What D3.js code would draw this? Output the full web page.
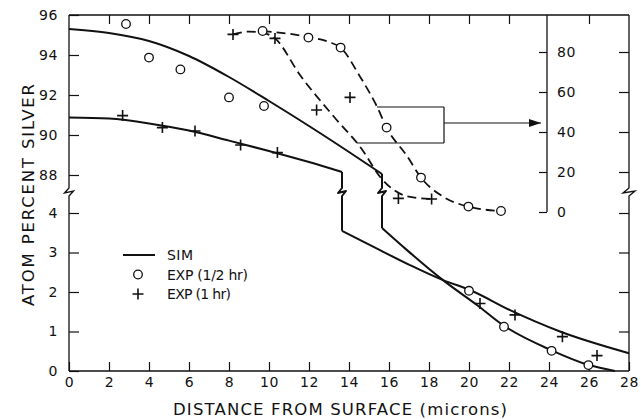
<!DOCTYPE html>
<html>
<head>
<meta charset="utf-8">
<script src="https://cdn.jsdelivr.net/npm/d3@7/dist/d3.min.js"></script>
<style>
  html, body { margin: 0; padding: 0; background: #fff; }
  svg { display: block; }
  text { font-family: "DejaVu Sans", "Liberation Sans", sans-serif; fill: #111; }
</style>
</head>
<body>
<script>
// ---- data -------------------------------------------------------------
const xTicks = [0, 2, 4, 6, 8, 10, 12, 14, 16, 18, 20, 22, 24, 26, 28];
const upperTicks = [88, 90, 92, 94, 96];       // atom % silver, upper (broken) band
const lowerTicks = [0, 1, 2, 3, 4];            // atom % silver, lower band
const insetTicks = [0, 20, 40, 60, 80];        // inset scale for the dashed profiles

// simulated profiles: upper band segment, then lower band segment
const simHalfUpper = [[0, 95.3], [2, 95.1], [4, 94.7], [6, 93.95], [8, 92.9], [10, 91.7], [12, 90.45], [14, 89.15], [15.65, 88.05]];
const simHalfLower = [[15.65, 3.62], [16.9, 3.06], [18.7, 2.3], [20.4, 1.67], [21.7, 1.16], [24.1, 0.53], [26, 0.15], [27.3, 0]];
const simHourUpper = [[0, 90.88], [2, 90.82], [4, 90.58], [6, 90.22], [8, 89.72], [10, 89.2], [12, 88.65], [13.65, 88.15]];
const simHourLower = [[13.65, 3.55], [15.55, 3.06], [17.05, 2.68], [18.7, 2.3], [20.05, 2.05], [22.05, 1.54], [24.55, 1.0], [28, 0.45]];

// measurements
const expHalfUpper = [[2.85, 95.55], [4.0, 93.87], [5.57, 93.28], [8.0, 91.88], [9.75, 91.45]];
const expHalfLower = [[20.0, 2.03], [21.75, 1.12], [24.13, 0.51], [25.97, 0.15]];
const expHourUpper = [[2.68, 90.97], [4.67, 90.37], [6.3, 90.2], [8.58, 89.5], [10.42, 89.12]];
const expHourLower = [[20.55, 1.71], [22.3, 1.42], [24.67, 0.87], [26.4, 0.39]];

// dashed profiles read on the inset scale
const insetHalfCurve = [[9.68, 90.5], [11.97, 87.5], [13.0, 85], [13.58, 82.2], [14.55, 67.7], [15.4, 52.7], [15.88, 42.2], [16.9, 28], [17.6, 17.2], [18.7, 7.7], [19.97, 2.7], [21.6, 0.5]];
const insetHalfMarks = [[9.68, 90.5], [11.97, 87.2], [13.58, 82.2], [15.88, 42.2], [17.6, 17.2], [19.97, 2.7], [21.6, 0.5]];
const insetHourCurve = [[8.2, 88.8], [9.0, 90.2], [9.7, 89.6], [10.3, 86.8], [11.55, 68.5], [13.3, 47], [14.6, 32], [15.6, 17], [16.9, 7.9], [18.13, 6.5]];
const insetHourMarks = [[8.2, 88.8], [10.3, 86.8], [12.38, 51], [14.05, 57.3], [16.47, 6.8], [18.13, 6.5]];

// bracket tying the dashed profiles to the inset scale (x in microns, y on inset scale)
const bracketTop = [[15.4, 52.5], [18.75, 52.5]];
const bracketBottom = [[14.4, 34.5], [18.75, 34.5]];
const arrowLine = [[18.75, 44.5], [23.6, 44.5]];
const insetAxisAt = 23.9;

const legendItems = [
  { label: "SIM", kind: "line" },
  { label: "EXP (1/2 hr)", kind: "circle" },
  { label: "EXP (1 hr)", kind: "plus" }
];

// ---- layout -----------------------------------------------------------
const W = 641, H = 419;
const padL = 69, padR = 629, padT = 15, padB = 371, breakY = 192;

const x = d3.scaleLinear([0, 28], [padL, padR]);
const yU = d3.scaleLinear([88, 96], [175, padT]);
const yL = d3.scaleLinear([0, 4], [padB, 213]);
const yR = d3.scaleLinear([0, 80], [212, 52]);

const svg = d3.select("body").append("svg").attr("width", W).attr("height", H);
const ink = "#111";

// zigzag break glyph on a vertical line
function zig(px, y0, y1, w) {
  return `M${px},${y0}L${px},${breakY - 4}L${px - w},${breakY + 1}L${px + w},${breakY - 1}L${px},${breakY + 4}L${px},${y1}`;
}

// frame
const frame = svg.append("g").attr("fill", "none").attr("stroke", ink).attr("stroke-width", 1.3);
frame.append("path").attr("d", `M${padL},${padT}H${padR}`);
frame.append("path").attr("d", `M${padL},${padB}H${padR}`);
frame.append("path").attr("d", zig(padL, padT, padB, 4.5));
frame.append("path").attr("d", zig(padR, padT, padB, 6));

function styleAxis(g) {
  g.select(".domain").remove();
  g.selectAll(".tick line").attr("stroke", ink).attr("stroke-width", 1.2);
  g.selectAll(".tick text").attr("fill", ink).attr("font-size", 14).attr("letter-spacing", 0.6)
    .attr("font-family", "'DejaVu Sans', sans-serif");
}
const fmt = d3.format("d");

// bottom axis with labels
svg.append("g").attr("transform", `translate(0,${padB})`)
  .call(d3.axisBottom(x).tickValues(xTicks).tickSize(-9).tickPadding(6).tickFormat(fmt))
  .call(styleAxis);
// top ticks only
svg.append("g").attr("transform", `translate(0,${padT})`)
  .call(d3.axisTop(x).tickValues(xTicks.filter(d => d > 0 && d < 28 && d !== 24)).tickSize(-9).tickFormat(""))
  .call(styleAxis);
// left axes
svg.append("g").attr("transform", `translate(${padL},0)`)
  .call(d3.axisLeft(yU).tickValues(upperTicks).tickSize(-10).tickPadding(11).tickFormat(fmt))
  .call(styleAxis);
svg.append("g").attr("transform", `translate(${padL},0)`)
  .call(d3.axisLeft(yL).tickValues(lowerTicks).tickSize(-10).tickPadding(11).tickFormat(fmt))
  .call(styleAxis);
// right frame ticks
svg.append("g").attr("transform", `translate(${padR},0)`)
  .call(d3.axisRight(yR).tickValues(insetTicks.filter(d => d > 0)).tickSize(-10).tickFormat(""))
  .call(styleAxis);
svg.append("g").attr("transform", `translate(${padR},0)`)
  .call(d3.axisRight(yL).tickValues(lowerTicks.filter(d => d > 0)).tickSize(-10).tickFormat(""))
  .call(styleAxis);
// inset axis for the dashed profiles
const ix = x(insetAxisAt);
svg.append("path").attr("d", `M${ix},${padT}V${yR(0)}`).attr("stroke", ink).attr("stroke-width", 1.3);
svg.append("g").attr("transform", `translate(${ix},0)`)
  .call(d3.axisRight(yR).tickValues(insetTicks).tickSize(-8).tickPadding(10).tickFormat(fmt))
  .call(styleAxis);

// axis titles
svg.append("text")
  .attr("transform", `translate(33.5,195) rotate(-90)`)
  .attr("text-anchor", "middle").attr("font-size", 16.5)
  .attr("textLength", 222).attr("lengthAdjust", "spacing")
  .text("ATOM PERCENT SILVER");
svg.append("text")
  .attr("x", 340).attr("y", 415)
  .attr("text-anchor", "middle").attr("font-size", 16.5)
  .attr("textLength", 334).attr("lengthAdjust", "spacing")
  .text("DISTANCE FROM SURFACE (microns)");

// curves
const lineU = d3.line().x(d => x(d[0])).y(d => yU(d[1])).curve(d3.curveMonotoneX);
const lineL = d3.line().x(d => x(d[0])).y(d => yL(d[1])).curve(d3.curveMonotoneX);
const lineR = d3.line().x(d => x(d[0])).y(d => yR(d[1])).curve(d3.curveMonotoneX);

const curves = svg.append("g").attr("fill", "none").attr("stroke", ink)
  .attr("stroke-width", 2).attr("stroke-linejoin", "round");
[[simHalfUpper, simHalfLower], [simHourUpper, simHourLower]].forEach(([u, l]) => {
  curves.append("path").attr("d", lineU(u));
  const a = u[u.length - 1], b = l[0];
  curves.append("path").attr("d", zig(x(a[0]), yU(a[1]), yL(b[1]), 4));
  curves.append("path").attr("d", lineL(l));
});

const dashed = svg.append("g").attr("fill", "none").attr("stroke", ink)
  .attr("stroke-width", 1.8).attr("stroke-dasharray", "9,5");
dashed.append("path").attr("d", lineR(insetHalfCurve));
dashed.append("path").attr("d", lineR(insetHourCurve));

// bracket and arrow
const straightR = d3.line().x(d => x(d[0])).y(d => yR(d[1]));
const br = svg.append("g").attr("fill", "none").attr("stroke", ink).attr("stroke-width", 1.2);
br.append("path").attr("d", straightR(bracketTop));
br.append("path").attr("d", straightR(bracketBottom));
br.append("path").attr("d", straightR([bracketTop[1], bracketBottom[1]]));
br.append("path").attr("d", straightR(arrowLine));
const tip = [x(arrowLine[1][0]), yR(arrowLine[1][1])];
svg.append("path")
  .attr("d", `M${tip[0]},${tip[1]}L${tip[0] - 12},${tip[1] - 4}L${tip[0] - 12},${tip[1] + 4}Z`)
  .attr("fill", ink);

// markers
function circles(data, ys) {
  svg.append("g").selectAll("circle").data(data).join("circle")
    .attr("cx", d => x(d[0])).attr("cy", d => ys(d[1])).attr("r", 4.3)
    .attr("fill", "#fff").attr("stroke", ink).attr("stroke-width", 1.3);
}
function pluses(data, ys) {
  svg.append("g").selectAll("path").data(data).join("path")
    .attr("d", d => { const px = x(d[0]), py = ys(d[1]); return `M${px - 5.5},${py}H${px + 5.5}M${px},${py - 5.5}V${py + 5.5}`; })
    .attr("stroke", ink).attr("stroke-width", 1.6).attr("fill", "none");
}
circles(expHalfUpper, yU);
circles(expHalfLower, yL);
circles(insetHalfMarks, yR);
pluses(expHourUpper, yU);
pluses(expHourLower, yL);
pluses(insetHourMarks, yR);

// legend
const lg = svg.append("g").attr("transform", "translate(138,255)");
const lengths = [26, 81, 64];
legendItems.forEach((it, i) => {
  const g = lg.append("g").attr("transform", `translate(0,${i * 19.5})`);
  if (it.kind === "line") g.append("path").attr("d", "M-15,0H17").attr("stroke", ink).attr("stroke-width", 2);
  if (it.kind === "circle") g.append("circle").attr("r", 4.3).attr("fill", "#fff").attr("stroke", ink).attr("stroke-width", 1.3);
  if (it.kind === "plus") g.append("path").attr("d", "M-5.5,0H5.5M0,-5.5V5.5").attr("stroke", ink).attr("stroke-width", 1.6);
  g.append("text").attr("x", 29).attr("y", 5).attr("font-size", 14)
    .attr("textLength", lengths[i]).attr("lengthAdjust", "spacing").text(it.label);
});
</script>
</body>
</html>
